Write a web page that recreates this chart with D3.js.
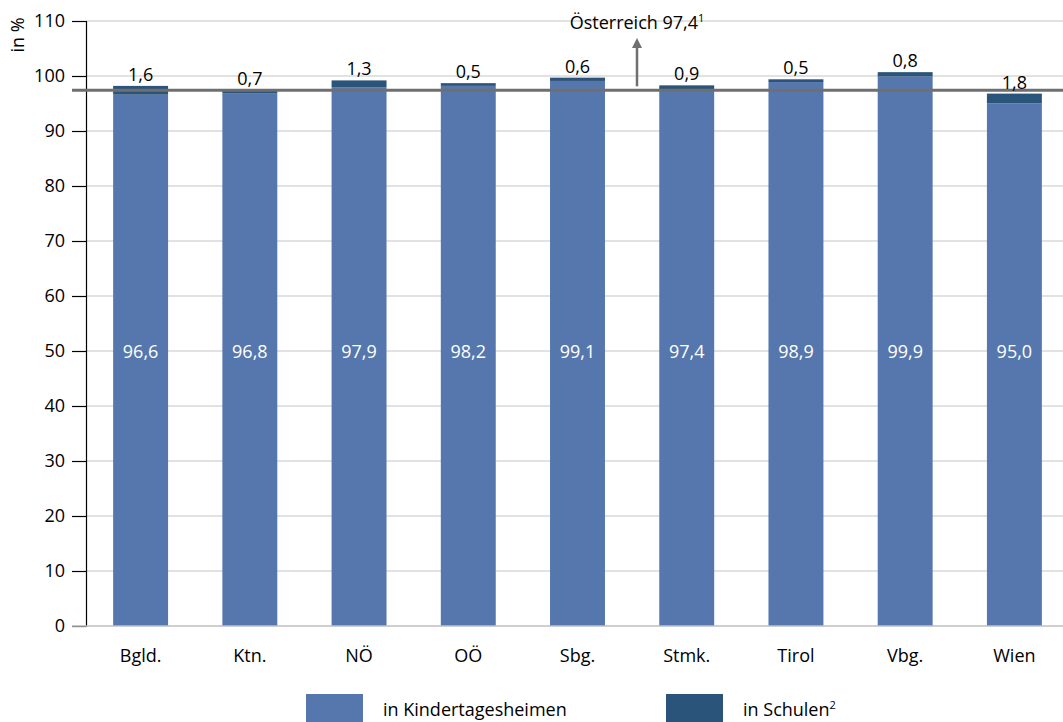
<!DOCTYPE html>
<html>
<head>
<meta charset="utf-8">
<script src="https://cdn.jsdelivr.net/npm/d3@7"></script>
<style>
  html, body { margin: 0; padding: 0; background: #fff; }
  svg { display: block; font-family: "Open Sans", Lato, sans-serif; }
</style>
</head>
<body>
<svg id="chart" width="1063" height="722"></svg>
<script>
// Bundesländer
const categories = ["Bgld.", "Ktn.", "NÖ", "OÖ", "Sbg.", "Stmk.", "Tirol", "Vbg.", "Wien"];
// Betreuungsquote in Kindertagesheimen (%)
const kindergarten = [96.6, 96.8, 97.9, 98.2, 99.1, 97.4, 98.9, 99.9, 95.0];
// zusätzlich in Schulen (%)
const schools = [1.6, 0.7, 1.3, 0.5, 0.6, 0.9, 0.5, 0.8, 1.8];
const austria = 97.4;
const yTicks = [0, 10, 20, 30, 40, 50, 60, 70, 80, 90, 100, 110];
const seriesNames = ["in Kindertagesheimen", "in Schulen"];

const colKiga = "#5577ad";
const colSchool = "#2a5479";
const fs = 18;
const fmt = v => d3.format(".1f")(v).replace(".", ",");

const svg = d3.select("#chart");
const x0 = 86, x1 = 1069, yTop = 21, yBottom = 626;

const x = d3.scaleBand().domain(categories).range([x0, x1]).paddingInner(0.497).paddingOuter(0.2485);
const y = d3.scaleLinear().domain([0, 110]).range([yBottom, yTop]);

// horizontal gridlines
svg.append("g").selectAll("line").data(yTicks.filter(t => t > 0)).join("line")
  .attr("x1", x0).attr("x2", 1063)
  .attr("y1", d => y(d)).attr("y2", d => y(d))
  .attr("stroke", "#d9d9d9").attr("stroke-width", 1.3);

// y axis
const yAxis = svg.append("g").attr("transform", `translate(${x0},0)`)
  .call(d3.axisLeft(y).tickValues(yTicks).tickSize(14).tickPadding(7));
yAxis.select(".domain").attr("stroke", "#000").attr("stroke-width", 1.2);
yAxis.selectAll(".tick line").attr("stroke", "#000").attr("stroke-width", 1.2);
yAxis.selectAll(".tick text").attr("font-size", fs).attr("fill", "#000")
  .attr("font-family", "'Open Sans', Lato, sans-serif");

svg.append("text")
  .attr("transform", `translate(24,35) rotate(-90)`)
  .attr("text-anchor", "middle")
  .attr("font-size", fs)
  .text("in %");

// bars: Kindertagesheime
const bw = x.bandwidth();
svg.append("g").selectAll("rect").data(categories).join("rect")
  .attr("x", d => x(d)).attr("width", bw)
  .attr("y", (d, i) => y(kindergarten[i]))
  .attr("height", (d, i) => y(0) - y(kindergarten[i]))
  .attr("fill", colKiga);

// bars: Schulen stacked on top
svg.append("g").selectAll("rect").data(categories).join("rect")
  .attr("x", d => x(d)).attr("width", bw)
  .attr("y", (d, i) => y(kindergarten[i] + schools[i]))
  .attr("height", (d, i) => y(kindergarten[i]) - y(kindergarten[i] + schools[i]))
  .attr("fill", colSchool);

// x axis baseline
svg.append("line")
  .attr("x1", 72).attr("x2", 1063)
  .attr("y1", y(0)).attr("y2", y(0))
  .attr("stroke", "#bfbfbf").attr("stroke-width", 1.5);

// category labels
svg.append("g").selectAll("text").data(categories).join("text")
  .attr("x", d => x(d) + bw / 2).attr("y", y(0) + 36)
  .attr("text-anchor", "middle").attr("font-size", fs)
  .text(d => d);

// Kindertagesheime values inside bars
svg.append("g").selectAll("text").data(categories).join("text")
  .attr("x", d => x(d) + bw / 2).attr("y", y(50) + 7)
  .attr("text-anchor", "middle").attr("font-size", fs).attr("fill", "#fff")
  .text((d, i) => fmt(kindergarten[i]));

// Österreich reference line
svg.append("line")
  .attr("x1", 72).attr("x2", 1063)
  .attr("y1", y(austria)).attr("y2", y(austria))
  .attr("stroke", "#6f6f72").attr("stroke-width", 3);

// Schulen values above bars
svg.append("g").selectAll("text").data(categories).join("text")
  .attr("x", d => x(d) + bw / 2)
  .attr("y", (d, i) => y(kindergarten[i] + schools[i]) - 5)
  .attr("text-anchor", "middle").attr("font-size", fs)
  .text((d, i) => fmt(schools[i]));

// arrow and label for the Austria value
const ax = 637;
svg.append("defs").append("marker")
  .attr("id", "arrowhead").attr("viewBox", "0 0 10 10")
  .attr("refX", 5).attr("refY", 5)
  .attr("markerWidth", 4).attr("markerHeight", 4)
  .attr("orient", "auto")
  .append("path").attr("d", "M0,0 L10,5 L0,10 Z").attr("fill", "#6f6f72");
svg.append("line")
  .attr("x1", ax).attr("x2", ax)
  .attr("y1", y(austria) - 4).attr("y2", 43)
  .attr("stroke", "#6f6f72").attr("stroke-width", 2.5)
  .attr("marker-end", "url(#arrowhead)");
const lbl = svg.append("text")
  .attr("x", ax).attr("y", 29)
  .attr("text-anchor", "middle").attr("font-size", fs);
lbl.append("tspan").text("Österreich " + fmt(austria));
lbl.append("tspan").attr("dy", -7).attr("font-size", 11).text("1");

// legend
const legend = svg.append("g");
const legX = [306, 666];
const legCols = [colKiga, colSchool];
seriesNames.forEach((name, i) => {
  legend.append("rect")
    .attr("x", legX[i]).attr("y", 694).attr("width", 57).attr("height", 28)
    .attr("fill", legCols[i]);
  const t = legend.append("text")
    .attr("x", legX[i] + 77).attr("y", 716).attr("font-size", fs).text(name);
  if (i === 1) t.append("tspan").attr("dy", -7).attr("font-size", 11).text("2");
});
</script>
</body>
</html>
